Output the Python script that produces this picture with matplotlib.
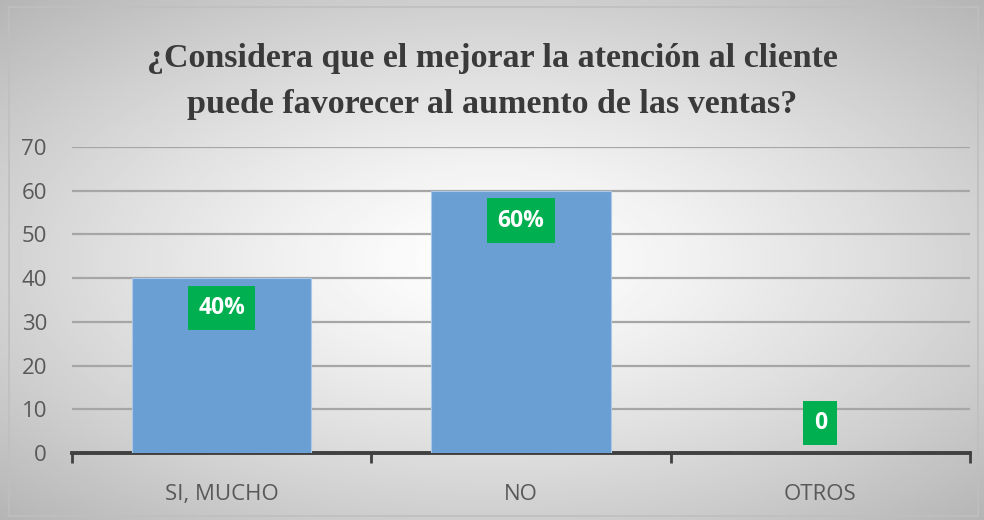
import numpy as np
import matplotlib
matplotlib.use("Agg")
import matplotlib.pyplot as plt
from matplotlib.patches import Rectangle

categorias = ["SI, MUCHO", "NO", "OTROS"]
valores = [40, 60, 0]
etiquetas = ["40%", "60%", "0"]
ticks_y = [0, 10, 20, 30, 40, 50, 60, 70]

titulo = "¿Considera que el mejorar la atención al cliente\npuede favorecer al aumento de las ventas?"

fig = plt.figure(figsize=(9.84, 5.2), dpi=100)

# fondo con degradado radial (blanco al centro, gris en los bordes)
fondo = fig.add_axes([0, 0, 1, 1], zorder=-10)
yy, xx = np.mgrid[-1:1:260j, -1:1:492j]
r = np.sqrt((xx * 0.85) ** 2 + (yy * 0.9) ** 2)
grad = np.clip(1.0 - 0.22 * r ** 1.3, 0, 1)
fondo.imshow(grad, cmap="gray", vmin=0, vmax=1, extent=[0, 1, 0, 1],
             aspect="auto", interpolation="bilinear")
fondo.add_patch(Rectangle((0.009, 0.008), 0.985, 0.978, fill=False,
                          edgecolor="#bfbfbf", linewidth=1.2,
                          transform=fondo.transAxes))
fondo.axis("off")

ax = fig.add_axes([72 / 984, 1 - 453 / 520, 898 / 984, 306 / 520])
ax.patch.set_alpha(0)

x = np.arange(len(categorias))
ax.bar(x, valores, width=0.6, color="#6a9fd4", edgecolor="#a9c8ea",
       linewidth=0.8, zorder=3)

for xi, v, txt in zip(x, valores, etiquetas):
    dy = -30 if v > 0 else 30
    ax.annotate(txt, (xi, v), xytext=(0, dy), textcoords="offset pixels",
                ha="center", va="center", color="white", fontsize=16.5,
                fontweight="bold", family="Open Sans", zorder=5,
                bbox=dict(boxstyle="square,pad=0.45", facecolor="#00b050",
                          edgecolor="none"))

ax.set_xlim(-0.5, 2.5)
ax.set_ylim(0, 70)
ax.set_yticks(ticks_y)
ax.yaxis.grid(True, color="#a6a6a6", linewidth=1.6, zorder=0)
ax.set_axisbelow(True)

for lado in ["top", "right", "left"]:
    ax.spines[lado].set_visible(False)
ax.spines["bottom"].set_color("#404040")
ax.spines["bottom"].set_linewidth(2.8)

ax.set_xticks([-0.5, 0.5, 1.5, 2.5])
ax.set_xticklabels([])
ax.set_xticks(x, minor=True)
ax.set_xticklabels(categorias, minor=True)
ax.tick_params(axis="x", which="major", length=7, width=2, color="#404040",
               direction="out")
ax.tick_params(axis="x", which="minor", length=0, pad=22, labelsize=16,
               labelcolor="#595959")
ax.tick_params(axis="y", length=0, pad=18, labelsize=16, labelcolor="#595959")
for lab in ax.get_xticklabels(minor=True) + ax.get_yticklabels():
    lab.set_family("Open Sans")

fig.text(0.5, 0.843, titulo, ha="center", va="center", fontsize=24.5,
         fontweight="bold", family="Liberation Serif", color="#3a3a3a",
         linespacing=1.6)

fig.savefig("out.png", dpi=100)
